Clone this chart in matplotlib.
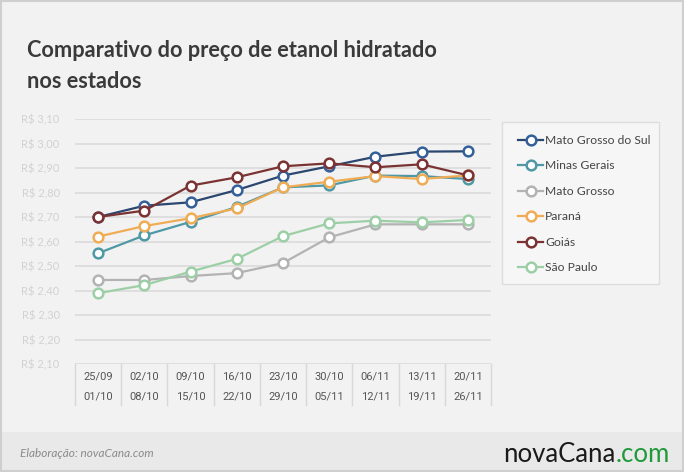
import numpy as np
import matplotlib.pyplot as plt
from matplotlib.patches import Rectangle
from matplotlib.lines import Line2D
import matplotlib.transforms as mtransforms

# Dados
semanas_ini = ["25/09", "02/10", "09/10", "16/10", "23/10", "30/10", "06/11", "13/11", "20/11"]
semanas_fim = ["01/10", "08/10", "15/10", "22/10", "29/10", "05/11", "12/11", "19/11", "26/11"]

mato_grosso_do_sul = [2.700, 2.746, 2.760, 2.810, 2.869, 2.907, 2.946, 2.967, 2.968]
minas_gerais = [2.552, 2.625, 2.680, 2.741, 2.821, 2.829, 2.869, 2.867, 2.855]
mato_grosso = [2.443, 2.443, 2.459, 2.471, 2.512, 2.617, 2.670, 2.670, 2.670]
parana = [2.620, 2.663, 2.695, 2.735, 2.821, 2.844, 2.867, 2.855, 2.870]
goias = [2.700, 2.726, 2.828, 2.862, 2.907, 2.919, 2.903, 2.915, 2.870]
sao_paulo = [2.389, 2.422, 2.477, 2.529, 2.622, 2.674, 2.685, 2.678, 2.688]

estados = ["Mato Grosso do Sul", "Minas Gerais", "Mato Grosso", "Paraná", "Goiás", "São Paulo"]
series = [mato_grosso_do_sul, minas_gerais, mato_grosso, parana, goias, sao_paulo]
cores_linha = ["#2b466f", "#4f98a6", "#b3b3b3", "#f0ac55", "#7b3232", "#9dcfa6"]
cores_marca = ["#34609a", "#4f98a6", "#b3b3b3", "#f0ac55", "#7b3232", "#9dcfa6"]

yticks = [2.10, 2.20, 2.30, 2.40, 2.50, 2.60, 2.70, 2.80, 2.90, 3.00, 3.10]

W, H = 684, 472
fig = plt.figure(figsize=(W / 100, H / 100), dpi=100)
fig.patch.set_facecolor("#f2f2f2")

def px(x0, y0, w, h):
    # retângulo em pixels (origem no canto superior esquerdo) -> coords da figura
    return [x0 / W, 1 - (y0 + h) / H, w / W, h / H]

# rodapé e borda
fig.patches.append(Rectangle((0, 0), 1, 1 - 432 / H, transform=fig.transFigure,
                             facecolor="#e9e9e9", edgecolor="none", zorder=0))
fig.patches.append(Rectangle((0.001, 0.002), 0.997, 0.996, transform=fig.transFigure,
                             facecolor="none", edgecolor="#cfcfcf", lw=1.5, zorder=5))

ax = fig.add_axes(px(75, 119, 416, 245))
ax.set_facecolor("none")
x = np.arange(len(semanas_ini))

for vals, nome, cl, cm in zip(series, estados, cores_linha, cores_marca):
    ax.plot(x, vals, color=cl, lw=1.6, marker="o", markersize=7,
            markerfacecolor="white", markeredgecolor=cm, markeredgewidth=1.8,
            label=nome, clip_on=False, zorder=3)

ax.set_xlim(-0.5, len(x) - 0.5)
ax.set_ylim(2.10, 3.10)
ax.set_yticks(yticks)
ax.set_yticklabels(["R$ " + f"{v:.2f}".replace(".", ",") for v in yticks],
                   fontsize=8, color="#d2d2d2", family="Lato")
ax.tick_params(axis="y", length=0, pad=11)
ax.set_xticks([])
for s in ax.spines.values():
    s.set_visible(False)
ax.grid(axis="y", color="#dcdcdc", lw=1.3, zorder=0)
ax.set_axisbelow(True)

# tabela das semanas
trans = mtransforms.blended_transform_factory(ax.transData, ax.transAxes)
dy = 1 / 245
for b in np.arange(len(x) + 1) - 0.5:
    ax.add_line(Line2D([b, b], [0, -41 * dy], transform=trans, color="#d8d8d8",
                       lw=1, clip_on=False))
for i in x:
    ax.text(i, -13 * dy, semanas_ini[i], transform=trans, ha="center", va="center",
            fontsize=8, color="#555555", family="Roboto")
    ax.text(i, -33 * dy, semanas_fim[i], transform=trans, ha="center", va="center",
            fontsize=8, color="#555555", family="Roboto")

# legenda
fig.patches.append(Rectangle((502 / W, 1 - 284 / H), 157 / W, 162 / H,
                             transform=fig.transFigure, facecolor="#f6f6f6",
                             edgecolor="#dddddd", lw=1, zorder=1))
leg = fig.legend(loc="upper left", bbox_to_anchor=(507 / W, 1 - 124 / H),
                 frameon=False, handlelength=2.1, handletextpad=0.15,
                 labelspacing=1.2, labelcolor="#444444",
                 prop={"family": "Lato", "size": 8.7})
leg.set_zorder(6)

# títulos e textos
fig.text(27 / W, 1 - 57 / H, "Comparativo do preço de etanol hidratado",
         fontsize=15.7, color="#3a3a3a", family="Lato", weight="bold", va="baseline")
fig.text(27 / W, 1 - 88 / H, "nos estados",
         fontsize=15.7, color="#3a3a3a", family="Lato", weight="bold", va="baseline")
fig.text(20 / W, 1 - 457 / H, "Elaboração: novaCana.com", fontsize=8.5, style="italic",
         color="#8a8a8a", family="Lato", va="baseline")
t1 = fig.text(670 / W, 1 - 462 / H, ".com", fontsize=18.5, color="#1f9a3a",
              family="Lato", ha="right", va="baseline")
fig.canvas.draw()
bb = t1.get_window_extent()
fig.text(bb.x0 / W, 1 - 462 / H, "novaCana", fontsize=18.5, color="#1a1a1a",
         family="Lato", ha="right", va="baseline")

fig.savefig("out.png", dpi=100, facecolor=fig.get_facecolor())
